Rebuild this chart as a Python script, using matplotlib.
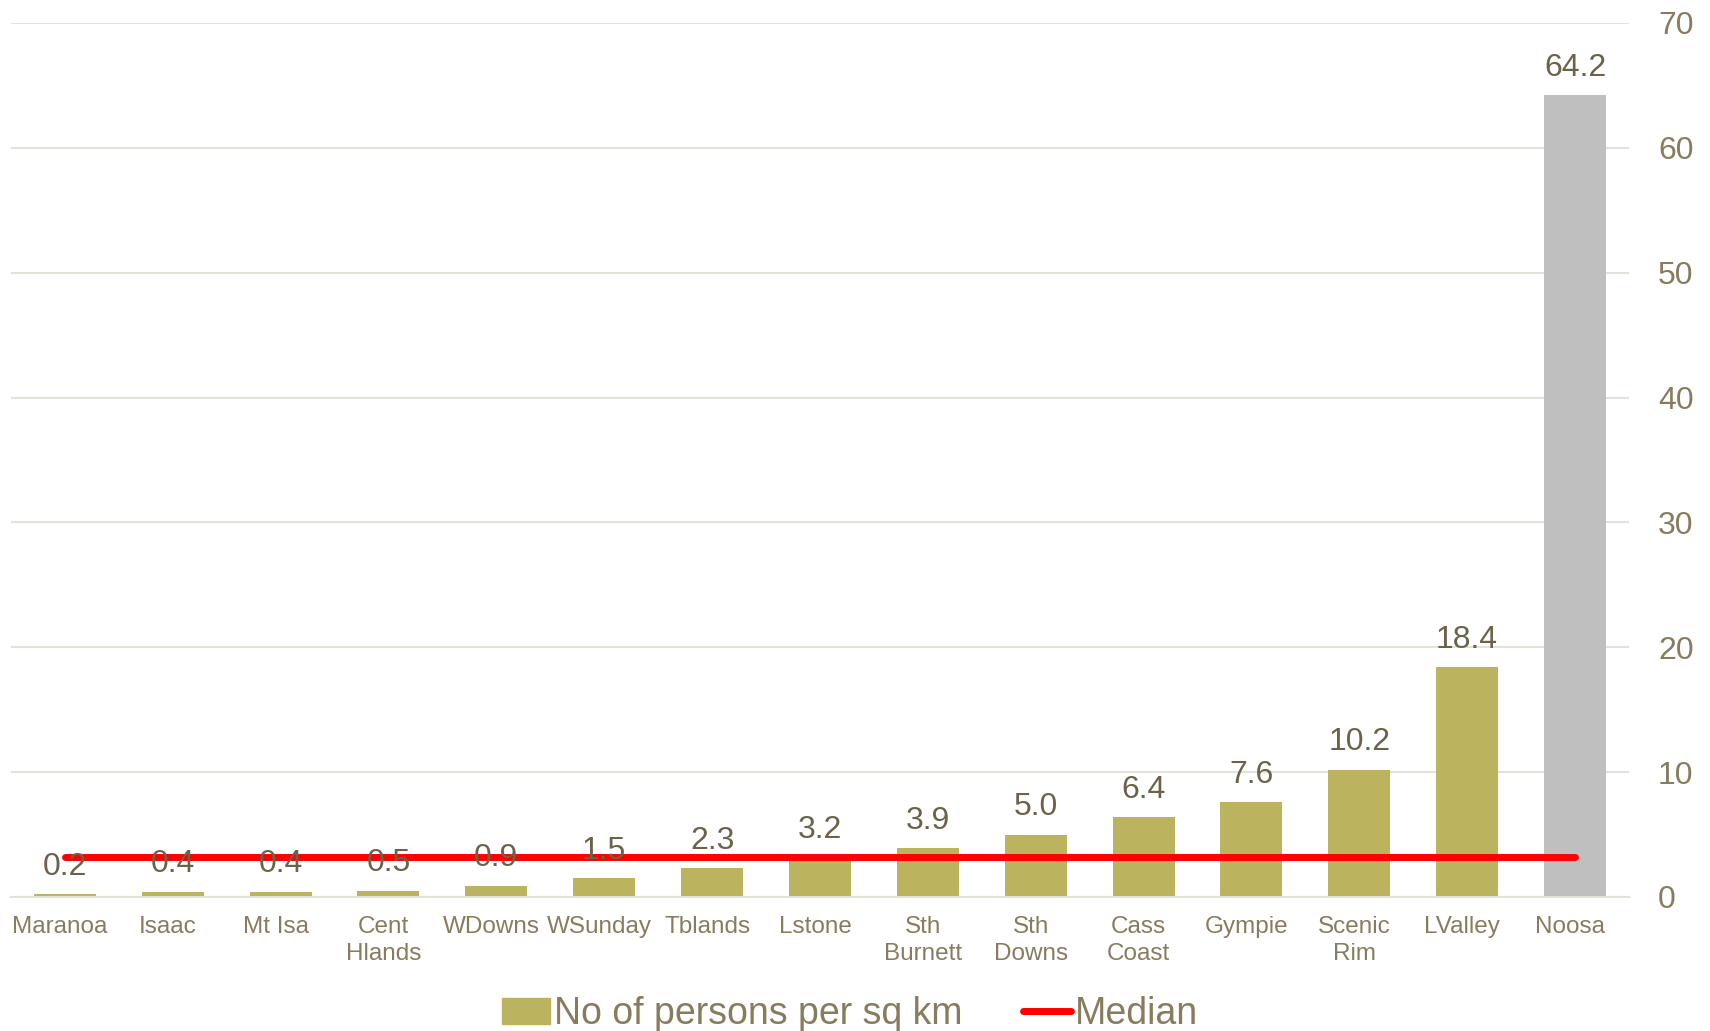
import numpy as np
import matplotlib.pyplot as plt
import matplotlib.transforms as mtransforms
from matplotlib.lines import Line2D
from matplotlib.patches import Patch

plt.rcParams['font.family'] = ['Liberation Sans', 'DejaVu Sans']

# Data
regions = ['Maranoa', 'Isaac', 'Mt Isa', 'Cent\nHlands', 'WDowns', 'WSunday', 'Tblands',
           'Lstone', 'Sth\nBurnett', 'Sth\nDowns', 'Cass\nCoast', 'Gympie', 'Scenic\nRim',
           'LValley', 'Noosa']
density = [0.2, 0.4, 0.4, 0.5, 0.9, 1.5, 2.3, 3.2, 3.9, 5.0, 6.4, 7.6, 10.2, 18.4, 64.2]
highlight = 'Noosa'
median = np.median(density)

olive = '#BBB35E'
grey = '#BFBFBF'
tick_col = '#877C5E'
label_col = '#6B6249'
grid_col = '#E6E2D9'

fig = plt.figure(figsize=(17.1, 10.31), dpi=100)
ax = fig.add_axes([0.0064, 0.130, 0.9462, 0.8477])

x = np.arange(len(regions))
colors = [grey if r == highlight else olive for r in regions]
bars = ax.bar(x, density, width=0.575, color=colors, zorder=2)

# median line from first to last category
ax.plot([x[0], x[-1]], [median, median], color='#FF0000', lw=5,
        solid_capstyle='round', zorder=3)

for xi, v in zip(x, density):
    ax.annotate(f'{v:.1f}', (xi, v), xytext=(0, 9), textcoords='offset points',
                ha='center', va='bottom', fontsize=23, color=label_col, zorder=4)

ax.set_xlim(-0.5, len(regions) - 0.5)
ax.set_ylim(0, 70)
ax.set_yticks(np.arange(0, 71, 10))
ax.yaxis.tick_right()
ax.tick_params(axis='y', length=0, pad=21, labelsize=23, labelcolor=tick_col)
ax.set_xticks(x)
ax.set_xticklabels(regions, linespacing=1.25)
ax.tick_params(axis='x', length=0, pad=14, labelsize=17.5, labelcolor=tick_col)

# category labels sit a little left of the bar centres
shift = mtransforms.ScaledTranslation(-5 / 100, 0, fig.dpi_scale_trans)
for lab in ax.get_xticklabels():
    lab.set_transform(lab.get_transform() + shift)

ax.grid(axis='y', color=grid_col, lw=1.5, zorder=0)
for s in ['top', 'left', 'right']:
    ax.spines[s].set_visible(False)
ax.spines['bottom'].set_color(grid_col)
ax.spines['bottom'].set_linewidth(1.5)

handles = [Patch(color=olive, label='No of persons per sq km'),
           Line2D([0], [0], color='#FF0000', lw=5, solid_capstyle='round', label='Median')]
fig.legend(handles=handles, loc='lower center', bbox_to_anchor=(0.497, -0.034), ncol=2,
           frameon=False, fontsize=27, labelcolor=tick_col, handlelength=1.3,
           handleheight=0.7, handletextpad=0.1, columnspacing=1.6)

fig.savefig('out.png', dpi=100)
